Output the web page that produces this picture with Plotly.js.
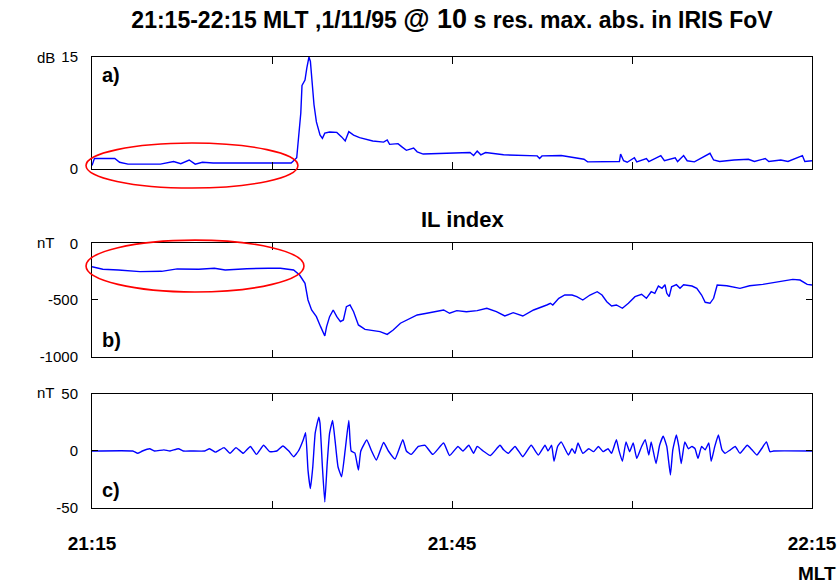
<!DOCTYPE html>
<html>
<head>
<meta charset="utf-8">
<script src="https://cdn.plot.ly/plotly-3.0.1.min.js"></script>
<style>html,body{margin:0;padding:0;background:#fff;}#chart{width:840px;height:587px;}</style>
</head>
<body>
<div id="chart"></div>
<script>
// Time in minutes after 21:15 MLT
const tickMinutes = [0, 15, 30, 45, 60];
const tickLabels = ['21:15', '', '21:45', '', '22:15'];

// a) max. absorption in IRIS FoV (dB)
const tA = [0, 0.2, 0.4, 1.9, 2.3, 3.0, 5.7, 6.8, 7.4, 8.1, 8.6, 9.2, 10.1, 12.0, 14.0, 16.6,
  17.06, 17.4, 17.5, 17.75, 17.9, 18.08, 18.2, 18.36, 18.5, 18.7, 19.0, 19.2, 19.4, 19.8,
  20.4, 20.8, 21.1, 21.4, 21.8, 22.3, 22.9, 23.4, 24.3, 24.6, 24.8, 25.5, 25.8, 26.2, 26.8,
  27.1, 27.6, 29.3, 31.5, 31.8, 32.1, 32.4, 32.8, 34.3, 37.1, 37.3, 37.5, 39.1, 40.4, 41.0,
  41.3, 43.95, 44.05, 44.3, 44.6, 45.2, 45.4, 46.2, 46.4, 47.4, 47.7, 48.6, 48.8, 49.3, 49.6,
  50.2, 51.5, 51.8, 52.3, 53.5, 54.7, 55.2, 56.1, 56.4, 57.4, 58.0, 59.2, 59.4, 60];
const dB = [0.45, 1.4, 1.4, 1.4, 0.9, 0.65, 0.65, 1.0, 0.7, 1.2, 0.65, 0.9, 0.8, 0.8, 0.8, 0.8,
  1.5, 7.5, 11.2, 11.9, 13.5, 15, 14.4, 11.7, 8.6, 6.3, 4.55, 4.1, 4.8, 4.95,
  4.9, 4.3, 3.75, 5.0, 4.55, 4.2, 3.9, 3.75, 3.6, 3.9, 3.3, 3.4, 3.0, 2.5, 2.8,
  2.3, 2.0, 2.1, 2.2, 1.8, 2.4, 1.9, 2.2, 1.9, 1.75, 1.4, 1.75, 1.8, 1.4, 1.3,
  0.95, 1.0, 2.0, 1.1, 0.9, 1.5, 0.95, 1.4, 1.0, 1.8, 1.1, 1.5, 1.0, 1.8, 1.1,
  0.95, 2.1, 1.2, 1.0, 1.2, 1.3, 1.0, 1.4, 1.0, 1.2, 1.0, 1.8, 1.0, 1.1];

// b) IL index (nT)
const tB = [0, 0.9, 2.2, 4.0, 5.8, 7.1, 8.9, 10.2, 11.1, 12.9, 14.7, 15.7, 16.8, 17.3, 17.75,
  18.0, 18.3, 18.7, 19.05, 19.4, 19.55, 19.8, 20.1, 20.4, 20.7, 20.95, 21.2, 21.5, 21.8, 22.2,
  22.75, 23.4, 24.0, 24.6, 25.1, 25.7, 26.4, 27.1, 27.9, 28.7, 29.3, 29.8, 30.4, 31.2, 32.1,
  32.9, 33.7, 34.4, 35.1, 35.9, 36.8, 37.9, 38.2, 38.4, 38.9, 39.4, 40.0, 40.4, 40.9, 41.5,
  42.1, 42.5, 42.9, 43.3, 43.7, 44.2, 44.7, 45.25, 45.8, 46.2, 46.6, 46.9, 47.2, 47.5, 47.75,
  47.9, 48.1, 48.3, 48.7, 49.0, 49.3, 50.0, 50.4, 50.8, 51.1, 51.5, 51.8, 52.1, 52.9, 54.0,
  54.8, 55.9, 57.1, 57.6, 58.4, 59.0, 59.6, 60];
const IL = [-206, -229, -235, -250, -247, -226, -229, -220, -235, -224, -220, -220, -235, -280, -353,
  -500, -588, -647, -735, -817, -735, -647, -588, -647, -691, -676, -559, -544, -603, -720,
  -759, -770, -779, -803, -765, -705, -668, -632, -617, -603, -588, -617, -594, -603, -594,
  -573, -603, -641, -612, -641, -588, -544, -529, -544, -485, -456, -456, -471, -500, -456,
  -427, -456, -515, -553, -544, -573, -529, -471, -450, -485, -427, -441, -377, -397, -365,
  -441, -471, -383, -365, -397, -365, -377, -397, -456, -520, -529, -485, -368, -374, -397,
  -374, -362, -338, -333, -318, -324, -362, -368];

// c) filtered pulsation (nT)
const tC = [0, 3.4, 3.8, 4.2, 4.8, 5.2, 6.0, 6.5, 7.2, 7.6, 8.3, 9.4, 9.8, 10.3, 11.0, 11.5,
  12.0, 12.6, 13.2, 13.7, 14.3, 14.8, 15.4, 15.9, 16.4, 16.8, 17.2, 17.6, 17.8, 18.0, 18.2,
  18.4, 18.6, 18.9, 19.0, 19.2, 19.4, 19.6, 19.8, 20.05, 20.25, 20.5, 20.8, 21.1, 21.4, 21.6,
  21.9, 22.2, 22.4, 22.9, 23.3, 23.7, 24.3, 24.7, 25.25, 25.9, 26.2, 26.6, 27.2, 27.75, 28.4,
  29.3, 29.8, 30.5, 30.9, 31.4, 31.8, 32.1, 32.6, 33.2, 34.0, 34.3, 34.7, 35.25, 35.9, 36.6,
  37.2, 37.75, 38.0, 38.3, 38.5, 38.8, 39.1, 39.7, 40.0, 40.25, 40.5, 40.9, 41.4, 41.8, 42.2,
  42.6, 43.0, 43.3, 43.7, 43.9, 44.2, 44.5, 44.8, 45.1, 45.4, 45.8, 46.1, 46.4, 46.6, 47.0,
  47.3, 47.6, 47.9, 48.2, 48.4, 48.7, 48.9, 49.1, 49.4, 49.7, 50.0, 50.25, 50.5, 50.8, 51.1,
  51.4, 51.6, 51.9, 52.2, 52.5, 52.75, 53.2, 53.6, 54.0, 54.6, 55.0, 55.4, 55.8, 56.2, 56.5,
  56.8, 60];
const pulse = [0, 0, -2, 0, 2, 0, 1, 0, 2, 0, 0, 0, 2, -1, 3, -2,
  3, -2, 4, -3, 5, -0.6, 0, 4.4, 0, -5, 0, 9.7, 16, -16.8, -33,
  -13.8, 15.6, 29.7, 24.4, -13.8, -44.7, -10.9, 15.6, 26.7, 9.7, -13.8, -22.6, 1, 26.7, 0,
  -1.7, -16.8, 0, 9.7, 0, -8, 7.4, 0, -7, 10, 0, -3, 4, 5, -3,
  7, -4, 4, 0, 5, -2, 4, 0, -4, 5, 1, -2, 4, -5, 5,
  -3.5, 5, 0, 5, -9, 4, 8, -3.5, 2, -2, 7, -2, 2, -0.6, 4,
  -0.6, 2, -2, 10, 1, -9, 8, -0.6, 7, -6.5, 4, 10, -3.5, 8, -11,
  5, 13, 4, -21, 1, 14, 4, -11, 8, 2, 4, 2, -6.5, 4, 1,
  7, -9, 4, 14, 1, -2, 1, 4, -2, 5, 1, -3.5, 2, 8, -0.6,
  0, 0];

const FONT = 'Liberation Sans, Arial, sans-serif';
const traces = [
  {x: tA, y: dB, type: 'scatter', mode: 'lines', line: {color: '#0000ff', width: 1.4}, xaxis: 'x', yaxis: 'y', hoverinfo: 'skip'},
  {x: tB, y: IL, type: 'scatter', mode: 'lines', line: {color: '#0000ff', width: 1.4}, xaxis: 'x2', yaxis: 'y2', hoverinfo: 'skip'},
  {x: tC, y: pulse, type: 'scatter', mode: 'lines', line: {color: '#0000ff', width: 1.4, shape: 'spline', smoothing: 0.4}, xaxis: 'x3', yaxis: 'y3', hoverinfo: 'skip'}
];

function xAxis(anchor, labels) {
  return {
    anchor: anchor, domain: [0, 1], range: [0, 60],
    tickmode: 'array', tickvals: tickMinutes,
    ticktext: tickLabels.map(s => s ? '<b>' + s + '</b>' : ''),
    showticklabels: labels, ticks: 'inside', ticklen: 7, tickcolor: '#000', tickwidth: 1,
    mirror: 'ticks', showline: true, linecolor: '#000', linewidth: 1,
    showgrid: false, zeroline: false, ticklabelstandoff: 18,
    tickfont: {size: 19, color: '#000', family: FONT}
  };
}
function yAxis(anchor, domain, range, vals) {
  return {
    anchor: anchor, domain: domain, range: range,
    tickmode: 'array', tickvals: vals, ticktext: vals.map(v => String(v)),
    ticks: 'inside', ticklen: 6, tickcolor: '#000', tickwidth: 1,
    mirror: 'ticks', showline: true, linecolor: '#000', linewidth: 1,
    showgrid: false, zeroline: false, ticklabelstandoff: 10,
    tickfont: {size: 15, color: '#000', family: FONT}
  };
}

const bold = (s) => '<b>' + s + '</b>';
const ann = (text, x, y, size, xanchor) => ({
  text: text, x: x, y: y, xref: 'paper', yref: 'paper', showarrow: false,
  xanchor: xanchor || 'center', yanchor: 'middle',
  font: {size: size, color: '#000', family: FONT}
});

const layout = {
  width: 840, height: 587,
  margin: {l: 92, r: 28, t: 57, b: 79},
  paper_bgcolor: '#fff', plot_bgcolor: '#fff',
  showlegend: false,
  font: {family: FONT, color: '#000'},
  title: {
    text: '<b>21:15-22:15 MLT ,1/11/95 <span style="font-size:27px">@ 10</span> s res. max. abs. in IRIS FoV</b>',
    xref: 'paper', x: 0.5, xanchor: 'center',
    yref: 'container', y: 1 - 20 / 587, yanchor: 'middle',
    font: {size: 23, color: '#000', family: FONT}
  },
  xaxis: xAxis('y', false),
  xaxis2: xAxis('y2', false),
  xaxis3: xAxis('y3', true),
  yaxis: yAxis('x', [0.7517, 1], [0, 15], [0, 15]),
  yaxis2: yAxis('x2', [0.3355, 0.5869], [-1000, 0], [-1000, -500, 0]),
  yaxis3: yAxis('x3', [0, 0.2528], [-50, 50], [-50, 0, 50]),
  annotations: [
    ann(bold('IL index'), 0.515, 0.6386, 22),
    ann('dB', -0.064, 0.9978, 15),
    ann('nT', -0.064, 0.5876, 15),
    ann('nT', -0.064, 0.255, 15),
    ann(bold('a)'), 0.011, 0.960, 20, 'left'),
    ann(bold('b)'), 0.011, 0.3725, 20, 'left'),
    ann(bold('c)'), 0.011, 0.0399, 20, 'left'),
    ann(bold('MLT'), 1.036, -0.1463, 19, 'right')
  ],
  shapes: [
    {type: 'circle', xref: 'paper', yref: 'paper', x0: -0.0083, x1: 0.286, y0: 0.7095, y1: 0.8093,
     line: {color: '#ff0000', width: 1.6}, layer: 'above'},
    {type: 'circle', xref: 'paper', yref: 'paper', x0: -0.0083, x1: 0.2944, y0: 0.479, y1: 0.594,
     line: {color: '#ff0000', width: 1.6}, layer: 'above'}
  ]
};

Plotly.newPlot('chart', traces, layout, {staticPlot: true, displayModeBar: false});
</script>
</body>
</html>
